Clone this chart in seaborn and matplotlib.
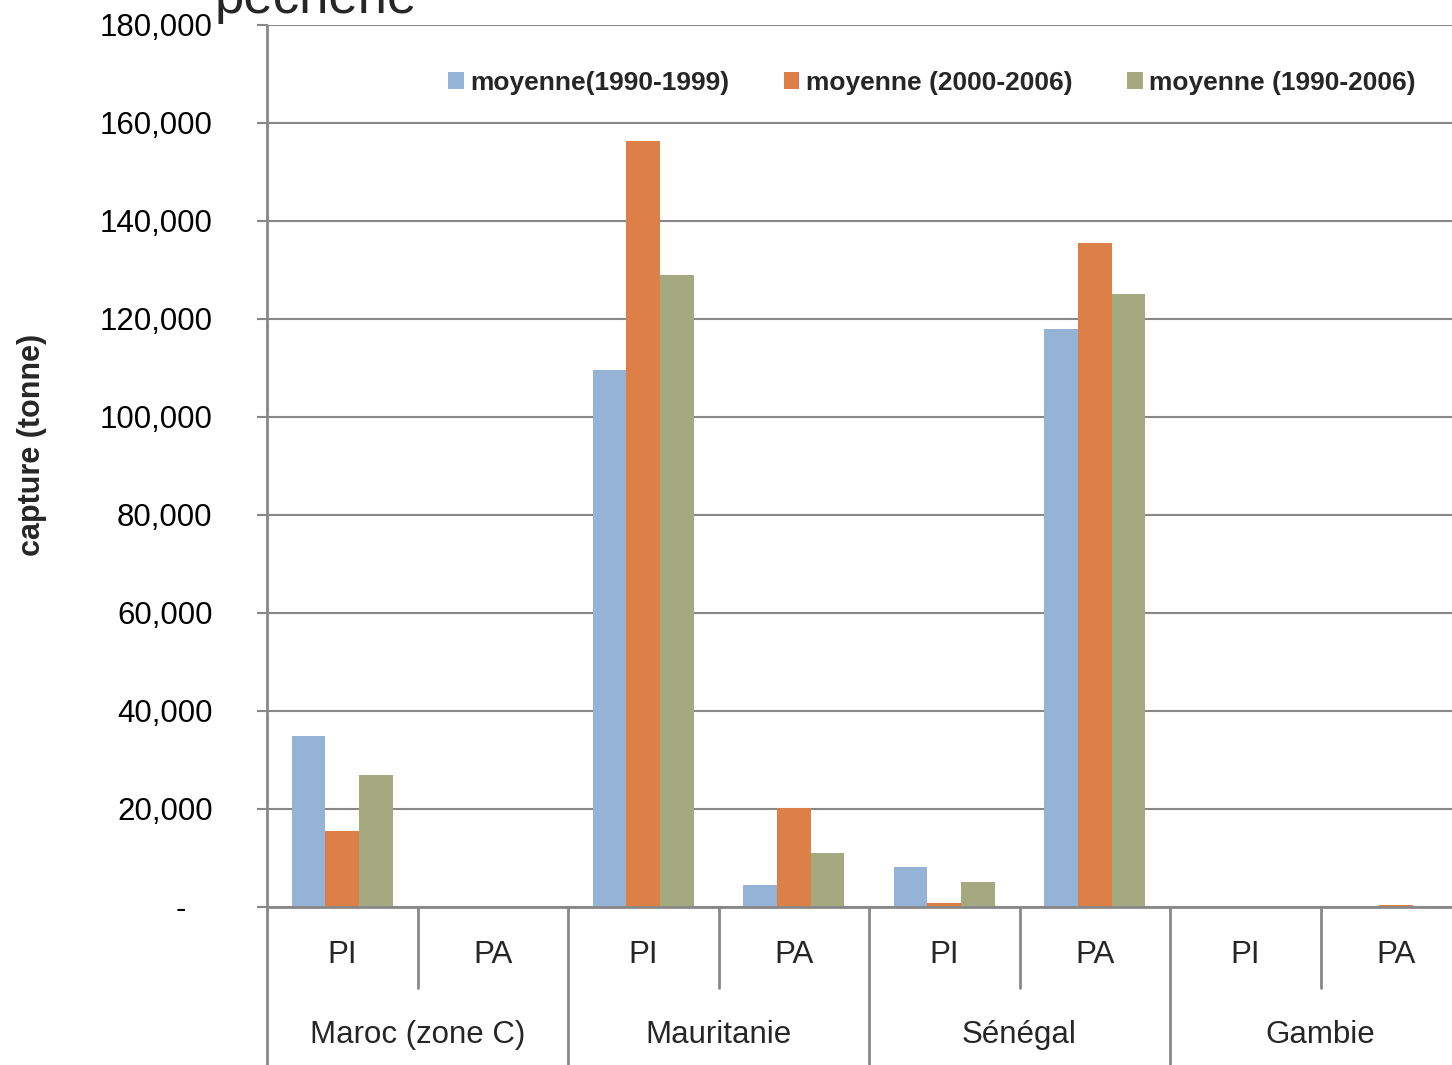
import matplotlib
matplotlib.use("Agg")
import matplotlib.pyplot as plt
import seaborn as sns
import pandas as pd
from matplotlib.ticker import FuncFormatter, MultipleLocator

# ---- data ----
countries = ["Maroc (zone C)", "Mauritanie", "Sénégal", "Gambie"]
fisheries = ["PI", "PA"]
series_names = ["moyenne(1990-1999)", "moyenne (2000-2006)", "moyenne (1990-2006)"]
mean_1990_1999 = [35000, 0, 109600, 4500, 8200, 118000, 0, 0]
mean_2000_2006 = [15500, 0, 156300, 20200, 800, 135500, 0, 400]
mean_1990_2006 = [26900, 0, 129000, 11000, 5100, 125100, 0, 165]
colors = ["#95B3D7", "#DD8047", "#A5A97F"]
title_text = "pêcherie"
ylabel_text = "capture (tonne)"

cats = [f"{c}|{f}" for c in countries for f in fisheries]
rows = []
for name, vals in zip(series_names, [mean_1990_1999, mean_2000_2006, mean_1990_2006]):
    for cat, v in zip(cats, vals):
        rows.append({"cat": cat, "series": name, "val": v})
df = pd.DataFrame(rows)

sns.set_theme(style="white")
plt.rcParams["font.family"] = ["Liberation Sans", "DejaVu Sans"]

W, H = 1452, 1065
fig = plt.figure(figsize=(W / 100, H / 100), dpi=100)
left_px, right_px, top_px, bot_px = 267, 1471, 25, 907
ax = fig.add_axes([left_px / W, 1 - bot_px / H, (right_px - left_px) / W, (bot_px - top_px) / H])

sns.barplot(data=df, x="cat", y="val", hue="series", order=cats, hue_order=series_names,
            palette=colors, saturation=1, width=0.67, linewidth=0, edgecolor="none", ax=ax)

grey = "#888888"
ax.set_xlim(-0.5, len(cats) - 0.5)
ax.set_ylim(0, 180000)
ax.yaxis.set_major_locator(MultipleLocator(20000))
ax.yaxis.set_major_formatter(FuncFormatter(lambda v, p: "-   " if v == 0 else f"{int(v):,}"))
ax.grid(axis="y", color=grey, linewidth=1.5)
ax.set_axisbelow(True)
for s in ["top", "right"]:
    ax.spines[s].set_visible(False)
ax.spines["bottom"].set_color(grey)
ax.spines["bottom"].set_linewidth(2)
ax.spines["left"].set_visible(False)
ax.tick_params(axis="y", length=7.2, width=1.5, color=grey, pad=32, labelsize=22.5, colors="black")
ax.tick_params(axis="y", which="major", left=True)
ax.tick_params(axis="x", length=0, labelsize=22.5, pad=24)
ax.set_xticks(range(len(cats)))
ax.set_xticklabels([c.split("|")[1] for c in cats])
ax.set_xlabel("")
ax.set_ylabel("")
fig.text(32 / W, 1 - 445 / H, ylabel_text, rotation=90, fontsize=22, fontweight="bold",
         ha="center", va="center")

# left axis line extended to bottom
trans = ax.get_xaxis_transform()
ext = -(H - bot_px) / (bot_px - top_px)
ax.plot([-0.5, -0.5], [ext, 1], transform=trans, color=grey, lw=2, clip_on=False)
# separators
for i in range(1, len(cats)):
    if i % 2 == 0:
        ax.plot([i - 0.5, i - 0.5], [ext, 0], transform=trans, color=grey, lw=2, clip_on=False)
    else:
        ax.plot([i - 0.5, i - 0.5], [-81 / (bot_px - top_px), 0], transform=trans, color=grey, lw=2, clip_on=False)
# country labels
for k, c in enumerate(countries):
    ax.text(2 * k + 0.5, -(1035 - bot_px) / (bot_px - top_px), c, transform=trans,
            ha="center", va="center", fontsize=22.5)

# legend
handles, labels = ax.get_legend_handles_labels()
if ax.get_legend() is not None:
    ax.get_legend().remove()
fig.legend(handles, labels, loc="center left", bbox_to_anchor=(448 / W, 1 - 83 / H), ncol=3,
           frameon=False, handlelength=0.6, handleheight=0.6, handletextpad=0.25,
           columnspacing=2.05, borderpad=0, borderaxespad=0, prop={"size": 19, "weight": "bold"})

# clipped title
fig.text(215 / W, 1 - 13 / H, title_text, fontsize=38, va="baseline", ha="left")

fig.savefig("out.png", dpi=100)
